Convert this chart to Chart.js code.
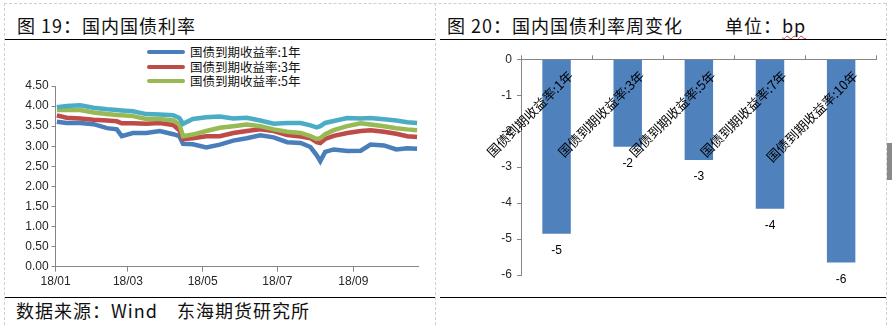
<!DOCTYPE html>
<html>
<head>
<meta charset="utf-8">
<script src="https://cdn.jsdelivr.net/npm/chart.js@4.4.0/dist/chart.umd.min.js"></script>
<style>
body{margin:0;width:892px;height:325px;background:#fff;position:relative;overflow:hidden;font-family:"Noto Sans CJK SC",sans-serif;color:#111;}
.abs{position:absolute;}
.title{font-size:18px;line-height:24px;top:13px;letter-spacing:1px;white-space:pre;}
.hline{height:0;border-top:1.5px solid #000;}
.vdot{width:0;border-left:1px dashed #cfcfcf;}
.legend{left:147px;font-size:12.5px;line-height:14.5px;}
.legend div{height:14.5px;display:flex;align-items:center;}
.legend span.sw{display:inline-block;width:38px;height:4px;border-radius:2px;margin-right:5px;}
</style>
</head>
<body>
<!-- 虚线边框 -->
<div class="abs" style="left:4px;top:3px;width:882px;height:0;border-top:1px dashed #cfcfcf"></div>
<div class="abs vdot" style="left:4px;top:3px;height:322px"></div>
<div class="abs vdot" style="left:435px;top:3px;height:322px"></div>
<div class="abs vdot" style="left:886px;top:3px;height:322px"></div>
<div class="abs" style="left:887px;top:143px;width:5px;height:37px;background:#8a8a8a"></div>

<div class="abs title" style="left:17px">图 19：国内国债利率</div>
<div class="abs title" style="left:447px">图 20：国内国债利率周变化</div>
<div class="abs title" style="left:725px">单位：<span style="text-decoration:underline wavy #d04040;text-decoration-thickness:1px;text-underline-offset:2px">bp</span></div>
<div class="abs hline" style="left:5px;top:39px;width:430px"></div>
<div class="abs hline" style="left:440px;top:39px;width:446px"></div>
<div class="abs hline" style="left:5px;top:297px;width:430px"></div>
<div class="abs hline" style="left:440px;top:297px;width:446px"></div>
<div class="abs title" style="left:16px;top:298px">数据来源：Wind　东海期货研究所</div>

<div class="abs legend" id="legend" style="top:45px"></div>

<canvas id="lineChart" class="abs" width="436" height="250" style="left:0;top:44px"></canvas>
<canvas id="barChart" class="abs" width="446" height="250" style="left:440px;top:44px"></canvas>

<script>
// 国债到期收益率（%），按日期取样
var dates = ['2018-01-02','2018-01-10','2018-01-21','2018-02-01','2018-02-12','2018-02-20','2018-02-24',
  '2018-03-05','2018-03-16','2018-03-27','2018-04-07','2018-04-12','2018-04-15','2018-04-23',
  '2018-05-04','2018-05-15','2018-05-26','2018-06-06','2018-06-17','2018-06-28','2018-07-09',
  '2018-07-20','2018-07-28','2018-08-02','2018-08-05','2018-08-09','2018-08-16','2018-08-27',
  '2018-09-07','2018-09-15','2018-09-26','2018-10-06','2018-10-15','2018-10-23'];
var yield1y = [3.61,3.58,3.58,3.55,3.45,3.42,3.25,3.33,3.33,3.38,3.30,3.25,3.06,3.05,2.97,3.04,3.14,
  3.20,3.27,3.22,3.10,3.08,2.98,2.78,2.63,2.86,2.92,2.88,2.89,3.04,3.02,2.92,2.95,2.94];
var yield3y = [3.77,3.71,3.69,3.66,3.64,3.62,3.57,3.57,3.56,3.58,3.53,3.40,3.18,3.20,3.25,3.25,3.33,
  3.38,3.42,3.38,3.28,3.24,3.20,3.10,3.08,3.18,3.26,3.33,3.38,3.40,3.36,3.31,3.25,3.23];
var yield5y = [3.90,3.90,3.90,3.84,3.80,3.78,3.77,3.75,3.68,3.68,3.64,3.55,3.25,3.29,3.38,3.46,3.50,
  3.54,3.50,3.42,3.36,3.33,3.25,3.18,3.20,3.30,3.40,3.50,3.57,3.54,3.50,3.45,3.42,3.40];
var yield10y = [3.97,4.00,4.02,3.96,3.92,3.90,3.89,3.87,3.80,3.79,3.77,3.70,3.56,3.68,3.72,3.74,3.69,
  3.71,3.64,3.56,3.58,3.58,3.52,3.47,3.50,3.58,3.63,3.70,3.69,3.70,3.67,3.64,3.60,3.58];

var monthTicks = ['18/01','18/03','18/05','18/07','18/09'];
var monthTickDates = ['2018-01-01','2018-03-01','2018-05-01','2018-07-01','2018-09-01'];
var axisEndDate = '2018-10-24';

// 周变化（bp）
var bondTerms = ['国债到期收益率:1年','国债到期收益率:3年','国债到期收益率:5年','国债到期收益率:7年','国债到期收益率:10年'];
var weeklyChange = [-4.85,-2.43,-2.80,-4.16,-5.65];

var axisGray = '#868686';
var tickFont = {family: '"Liberation Sans", Arial, sans-serif', size: 12};
var tickColor = '#262626';

function dayOf(s) {
  var p = s.split('-');
  return (Date.UTC(+p[0], +p[1] - 1, +p[2]) - Date.UTC(2018, 0, 1)) / 86400000;
}
function points(vals) {
  return dates.map(function (d, i) { return {x: dayOf(d), y: vals[i]}; });
}

var series = [
  {label: '国债到期收益率:1年', data: points(yield1y), borderColor: '#4A7EBB', order: 4, legend: true},
  {label: '国债到期收益率:3年', data: points(yield3y), borderColor: '#BE4B48', order: 3, legend: true},
  {label: '国债到期收益率:5年', data: points(yield5y), borderColor: '#98B954', order: 2, legend: true},
  {label: '国债到期收益率:10年', data: points(yield10y), borderColor: '#4BACC6', order: 1, legend: false}
];

// 图例（只显示前三条）
var legendEl = document.getElementById('legend');
series.filter(function (s) { return s.legend; }).forEach(function (s) {
  var row = document.createElement('div');
  row.innerHTML = '<span class="sw" style="background:' + s.borderColor + '"></span>' + s.label;
  legendEl.appendChild(row);
});

var lineChart = new Chart(document.getElementById('lineChart').getContext('2d'), {
  type: 'line',
  data: {
    datasets: series.map(function (s) {
      return {label: s.label, data: s.data, borderColor: s.borderColor, borderWidth: 4.5,
        pointRadius: 0, tension: 0, fill: false, order: s.order};
    })
  },
  options: {
    responsive: false,
    animation: false,
    layout: {padding: {left: 0, right: 17.7, top: 42, bottom: 0}},
    plugins: {legend: {display: false}, tooltip: {enabled: false}},
    scales: {
      x: {
        type: 'linear',
        min: 0,
        max: dayOf(axisEndDate),
        afterBuildTicks: function (scale) {
          scale.ticks = monthTickDates.map(function (d) { return {value: dayOf(d)}; });
        },
        afterFit: function (scale) { scale.height = 27.3; },
        ticks: {
          autoSkip: false, maxRotation: 0, padding: 3, font: tickFont, color: tickColor,
          callback: function (value, index) { return monthTicks[index]; }
        },
        grid: {drawOnChartArea: false, tickLength: 5, color: axisGray},
        border: {color: axisGray}
      },
      y: {
        min: 0,
        max: 4.5,
        afterFit: function (scale) { scale.width = 55.6; },
        ticks: {
          stepSize: 0.5, padding: 3, font: tickFont, color: tickColor,
          callback: function (value) { return value.toFixed(2); }
        },
        grid: {drawOnChartArea: false, tickLength: 4, color: axisGray},
        border: {color: axisGray}
      }
    }
  }
});

// 柱子上的类别名和数值
var barLabels = {
  id: 'barLabels',
  afterDatasetsDraw: function (chart) {
    var ctx = chart.ctx;
    var xScale = chart.scales.x;
    var top = chart.chartArea.top;
    ctx.save();
    ctx.fillStyle = '#000';
    ctx.font = '13px "Noto Sans CJK SC", sans-serif';
    bondTerms.forEach(function (t, i) {
      var cx = xScale.getPixelForValue(i);
      ctx.save();
      ctx.translate(cx + 14, top + 14);
      ctx.rotate(-Math.PI / 4);
      ctx.textAlign = 'right';
      ctx.textBaseline = 'middle';
      ctx.fillText(t, 0, 0);
      ctx.restore();
    });
    ctx.font = '12px "Liberation Sans", Arial, sans-serif';
    ctx.textAlign = 'center';
    ctx.textBaseline = 'middle';
    chart.getDatasetMeta(0).data.forEach(function (bar, i) {
      ctx.fillText(String(Math.round(weeklyChange[i])), bar.x, bar.y + 17);
    });
    ctx.restore();
  }
};

var barChart = new Chart(document.getElementById('barChart').getContext('2d'), {
  type: 'bar',
  data: {
    labels: bondTerms,
    datasets: [{
      label: '周变化',
      data: weeklyChange,
      backgroundColor: '#4F81BD',
      barPercentage: 0.4,
      categoryPercentage: 1
    }]
  },
  options: {
    responsive: false,
    animation: false,
    layout: {padding: {left: 0, right: 9.3, top: 0, bottom: 19}},
    plugins: {legend: {display: false}, tooltip: {enabled: false}},
    scales: {
      x: {
        position: 'top',
        afterFit: function (scale) { scale.height = 15.3; },
        ticks: {display: false},
        grid: {drawOnChartArea: false, offset: true, tickLength: 4, color: axisGray},
        border: {color: axisGray}
      },
      y: {
        min: -6,
        max: 0,
        afterFit: function (scale) { scale.width = 81; },
        ticks: {stepSize: 1, padding: 5, font: tickFont, color: tickColor},
        grid: {drawOnChartArea: false, tickLength: 4, color: axisGray},
        border: {color: axisGray}
      }
    }
  },
  plugins: [barLabels]
});
</script>
</body>
</html>
